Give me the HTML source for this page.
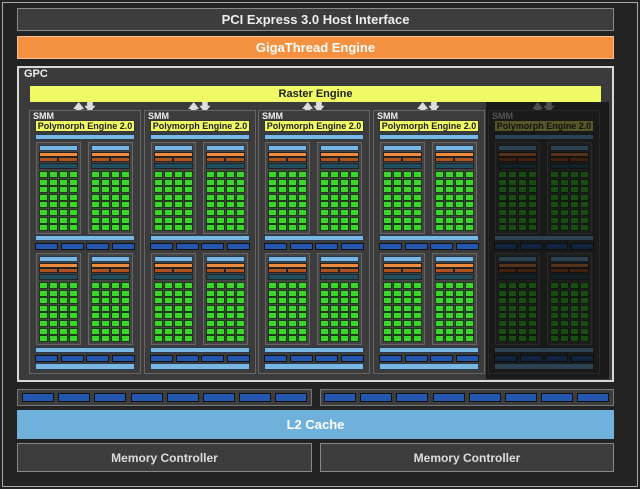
<!DOCTYPE html>
<html><head><meta charset="utf-8"><style>
body{margin:0;width:640px;height:489px;background:#232323;position:relative;overflow:hidden;font-family:"Liberation Sans",sans-serif}
div{position:absolute;box-sizing:border-box}
.t{color:#eee;font-weight:bold;display:flex;align-items:center;justify-content:center}
</style></head><body>
<div style="left:2px;top:2px;width:636px;height:485px;border:1px solid #aaa"></div>
<div class="t" style="left:17px;top:8px;width:597px;height:23px;background:#3d3d3d;border:1px solid #8a8a8a;font-size:13px">PCI Express 3.0 Host Interface</div>
<div class="t" style="left:17px;top:36px;width:597px;height:23px;background:#f39140;border:1px solid #f8c090;font-size:13px;color:#fff">GigaThread Engine</div>
<div style="left:17px;top:66px;width:597px;height:316px;background:#3b3b3b;border:2px solid #d8d8d8"></div>
<div style="left:24px;top:68px;color:#eee;font-weight:bold;font-size:11px">GPC</div>
<div class="t" style="left:30px;top:86px;width:571px;height:16px;background:#f0fa64;color:#222;font-size:11px">Raster Engine</div>
<div id="g"></div>
<div class="t" style="left:17px;top:410px;width:597px;height:29px;background:#70b1dc;color:#fff;font-size:13px">L2 Cache</div>
<div class="t" style="left:17px;top:443px;width:295px;height:29px;background:#3d3d3d;border:1px solid #888;font-size:12px;color:#ddd">Memory Controller</div>
<div class="t" style="left:320px;top:443px;width:294px;height:29px;background:#3d3d3d;border:1px solid #888;font-size:12px;color:#ddd">Memory Controller</div>
<script>
var h='';
function r(x,y,w,hh,s){h+='<div style="left:'+x+'px;top:'+y+'px;width:'+w+'px;height:'+hh+'px;'+s+'"></div>';}
var LB='background:#78b6e4;border:1px solid #2a3a4a';
var DB='background:#2458b0;border:1px solid #111';
function quad(x,y){
 r(x,y,45,92,'background:#444;border:1px solid #666');
 r(x+3,y+3,39,6,LB);
 r(x+3,y+10,39,5,'background:#f08a3c;border:1px solid #222');
 r(x+3,y+15,19,5,'background:#b0521e;border:1px solid #222');
 r(x+22,y+15,20,5,'background:#b0521e;border:1px solid #222');
 r(x+3,y+21,39,6,'background:#1f4f5e;border:1px solid #222');
 for(var i=0;i<8;i++)for(var j=0;j<4;j++)r(x+3+j*10,y+29+i*7.6,9,7,'background:#3ed42e;border:1px solid #1a3a14');
}
for(var k=0;k<5;k++){
 var x=29+k*114.7;x=Math.round(x);
 h+='<div style="left:'+(x+44)+'px;top:99px;color:#ddd;font-size:11px;font-weight:bold">&#129093;&#129095;</div>';
 r(x,110,112,264,'background:#3c3c3c;border:1px solid #666');
 h+='<div style="left:'+(x+4)+'px;top:111px;color:#eee;font-size:9px;font-weight:bold">SMM</div>';
 h+='<div class="t" style="left:'+(x+6)+'px;top:120px;width:100px;height:12px;background:#f0fa64;border:1px solid #333;color:#222;font-size:9px">Polymorph Engine 2.0</div>';
 r(x+6,134,100,6,LB);
 quad(x+7,142);quad(x+59,142);
 r(x+6,235,100,6,LB);
 for(var j=0;j<4;j++)r(x+6+j*25.5,243,23,7,DB);
 quad(x+7,253);quad(x+59,253);
 r(x+6,347,100,6,LB);
 for(var j=0;j<4;j++)r(x+6+j*25.5,355,23,7,DB);
 r(x+6,363,100,7,LB);
}
r(486,102,123,277,'background:rgba(10,10,10,0.68)');
r(17,389,295,17,'background:#3d3d3d;border:1px solid #777');
r(320,389,294,17,'background:#3d3d3d;border:1px solid #777');
for(var j=0;j<8;j++){r(22+j*36.2,393,32,9,DB);r(324+j*36.2,393,32,9,DB);}
document.getElementById('g').outerHTML=h;
</script>
</body></html>
